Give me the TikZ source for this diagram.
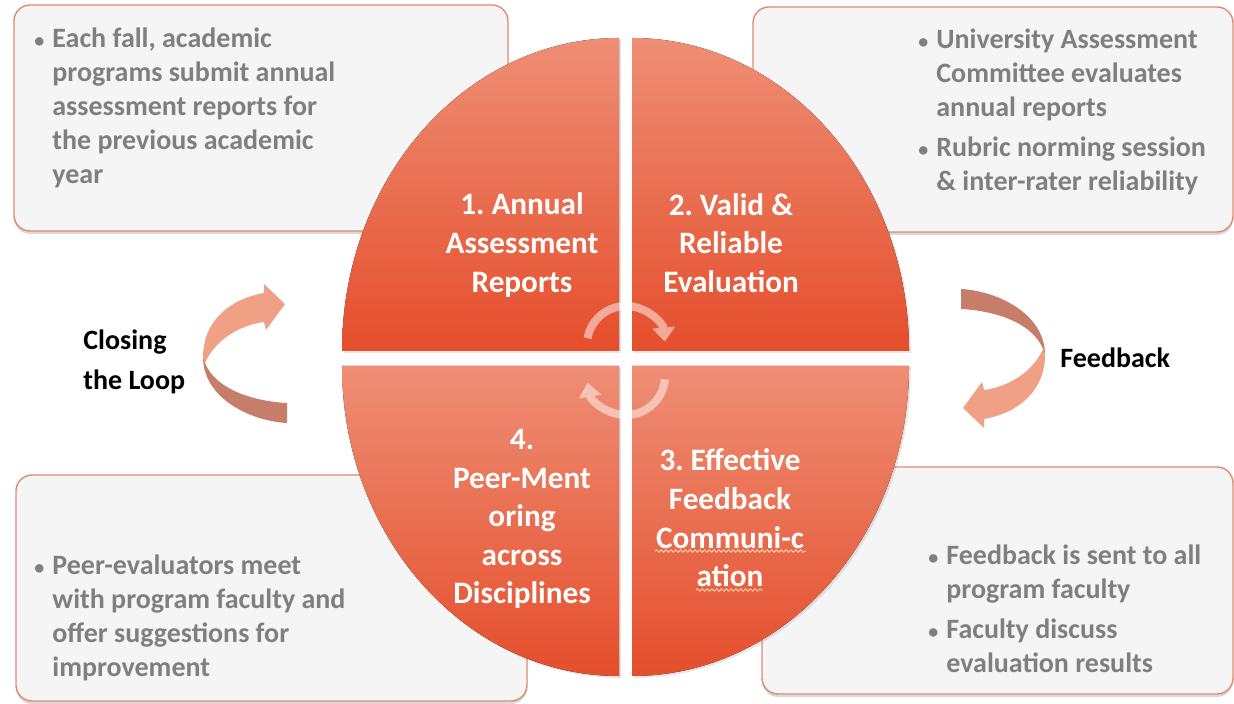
\documentclass[tikz,border=0pt]{standalone}
\usepackage{fontspec}
\setmainfont{Carlito}
\usepackage{tikz}
\usetikzlibrary{arrows.meta,shadows,decorations.pathmorphing,positioning}
\frenchspacing

\definecolor{quadlight}{RGB}{238,142,117}
\definecolor{quaddark}{RGB}{229,78,44}
\definecolor{boxline}{RGB}{222,140,112}
\definecolor{boxfill}{RGB}{245,245,245}
\definecolor{boxtext}{RGB}{127,127,127}
\definecolor{ribbonlight}{RGB}{240,160,132}
\definecolor{ribbondark}{RGB}{198,126,106}
\definecolor{squiggle}{RGB}{245,205,175}

\newcommand{\notelist}[1]{\begin{tabular}{@{}p{9pt}@{}l@{}}#1\end{tabular}}
\newcommand{\dotmark}{{\fontsize{10}{10}\selectfont\textbullet}}

\tikzset{
  infobox/.style={draw=boxline, line width=0.7pt, fill=boxfill, rounded corners=8pt,
    inner sep=0pt, drop shadow={opacity=0.3, shadow xshift=0pt, shadow yshift=-1.5pt}},
  quarter/.style={top color=quadlight, bottom color=quaddark,
    drop shadow={opacity=0.2, shadow xshift=1pt, shadow yshift=-1pt}},
  steplabel/.style={text=white, font=\fontsize{15.6}{19.3}\selectfont\bfseries, align=center},
  notetext/.style={text=boxtext, font=\fontsize{14}{17}\selectfont\bfseries, inner sep=0pt, anchor=west},
  sidelabel/.style={font=\fontsize{14}{20}\selectfont\bfseries, align=left, anchor=west, inner sep=0pt},
  ringarrow/.style={line width=4pt, white, -{Triangle[width=11pt,length=7pt]}},
  wavy/.style={squiggle, line width=0.5pt, decorate,
    decoration={snake, amplitude=0.6pt, segment length=2.4pt}},
  pics/ribbon/.style={code={
    \fill[ribbondark] (-42,-6) .. controls (-42,35) and (5,58) .. (42,60) -- (42,40)
      .. controls (5,38) and (-30,25) .. (-40,0) -- cycle;
    \fill[ribbonlight] (40,-59) -- (19,-79) -- (19,-70) .. controls (-20,-63) and (-42,-38) .. (-42,-6)
      -- (-40,0) .. controls (-30,-23) and (-5,-38) .. (19,-41) -- (21,-33) -- cycle;
  }}
}

\begin{document}
\begin{tikzpicture}[x=0.5pt, y=-0.5pt]
  \useasboundingbox (0,0) rectangle (1234,704);

  % note boxes
  \node[infobox, minimum width=247pt, minimum height=113pt] (note1) at (261,118) {};
  \node[infobox, minimum width=240pt, minimum height=112.5pt] (note2) at (993,119.5) {};
  \node[infobox, minimum width=255.5pt, minimum height=113pt] (note3) at (271.5,588) {};
  \node[infobox, minimum width=235.5pt, minimum height=113.5pt] (note4) at (997.5,580.5) {};

  % side arrows
  \pic at (245,363) {ribbon};
  \pic[rotate=180] at (1003,349) {ribbon};

  % the four quarters
  \fill[quarter] (619,351) -- (342,351) arc[start angle=180, end angle=270, x radius=277, y radius=313] -- cycle;
  \fill[quarter] (632,351) -- (632,38) arc[start angle=270, end angle=360, x radius=277, y radius=313] -- cycle;
  \fill[quarter] (632,366) -- (909,366) arc[start angle=0, end angle=90, x radius=277, y radius=310] -- cycle;
  \fill[quarter] (619,366) -- (619,676) arc[start angle=90, end angle=180, x radius=277, y radius=310] -- cycle;

  \node[steplabel] (step1) at (522,245) {1. Annual\\Assessment\\Reports};
  \node[steplabel] (step2) at (731,243) {2. Valid \&\\Reliable\\Evaluation};
  \node[steplabel] (step3) at (730,518) {3. Effective\\Feedback\\Communi-c\\ation};
  \node[steplabel] (step4) at (522,519) {4.\\Peer-Ment\\oring\\across\\Disciplines};
  \draw[wavy] (655,551) -- (806,551);
  \draw[wavy] (696,590) -- (763,590);

  % cycle arrows in the middle
  \begin{scope}[transparency group, opacity=0.5]
    \draw[ringarrow] (626,345) ++(190:39) arc[start angle=190, end angle=355, radius=39];
    \draw[ringarrow] (626,376) ++(5:39) arc[start angle=5, end angle=170, radius=39];
  \end{scope}

  % notes
  \node[notetext] (text1) at (34,109) {\notelist{\dotmark & Each fall, academic\\
    & programs submit annual\\ & assessment reports for\\ & the previous academic\\ & year}};
  \node[notetext] (text2) at (918,113) {\notelist{\dotmark & University Assessment\\
    & Committee evaluates\\ & annual reports\\[3pt]
    \dotmark & Rubric norming session\\ & \& inter-rater reliability}};
  \node[notetext] (text3) at (34,619) {\notelist{\dotmark & Peer-evaluators meet\\
    & with program faculty and\\ & offer suggestions for\\ & improvement}};
  \node[notetext] (text4) at (928,612) {\notelist{\dotmark & Feedback is sent to all\\
    & program faculty\\[3pt] \dotmark & Faculty discuss\\ & evaluation results}};

  \node[sidelabel] (closing) at (83,362) {Closing\\the Loop};
  \node[sidelabel] (feedback) at (1060,358) {Feedback};
\end{tikzpicture}
\end{document}
